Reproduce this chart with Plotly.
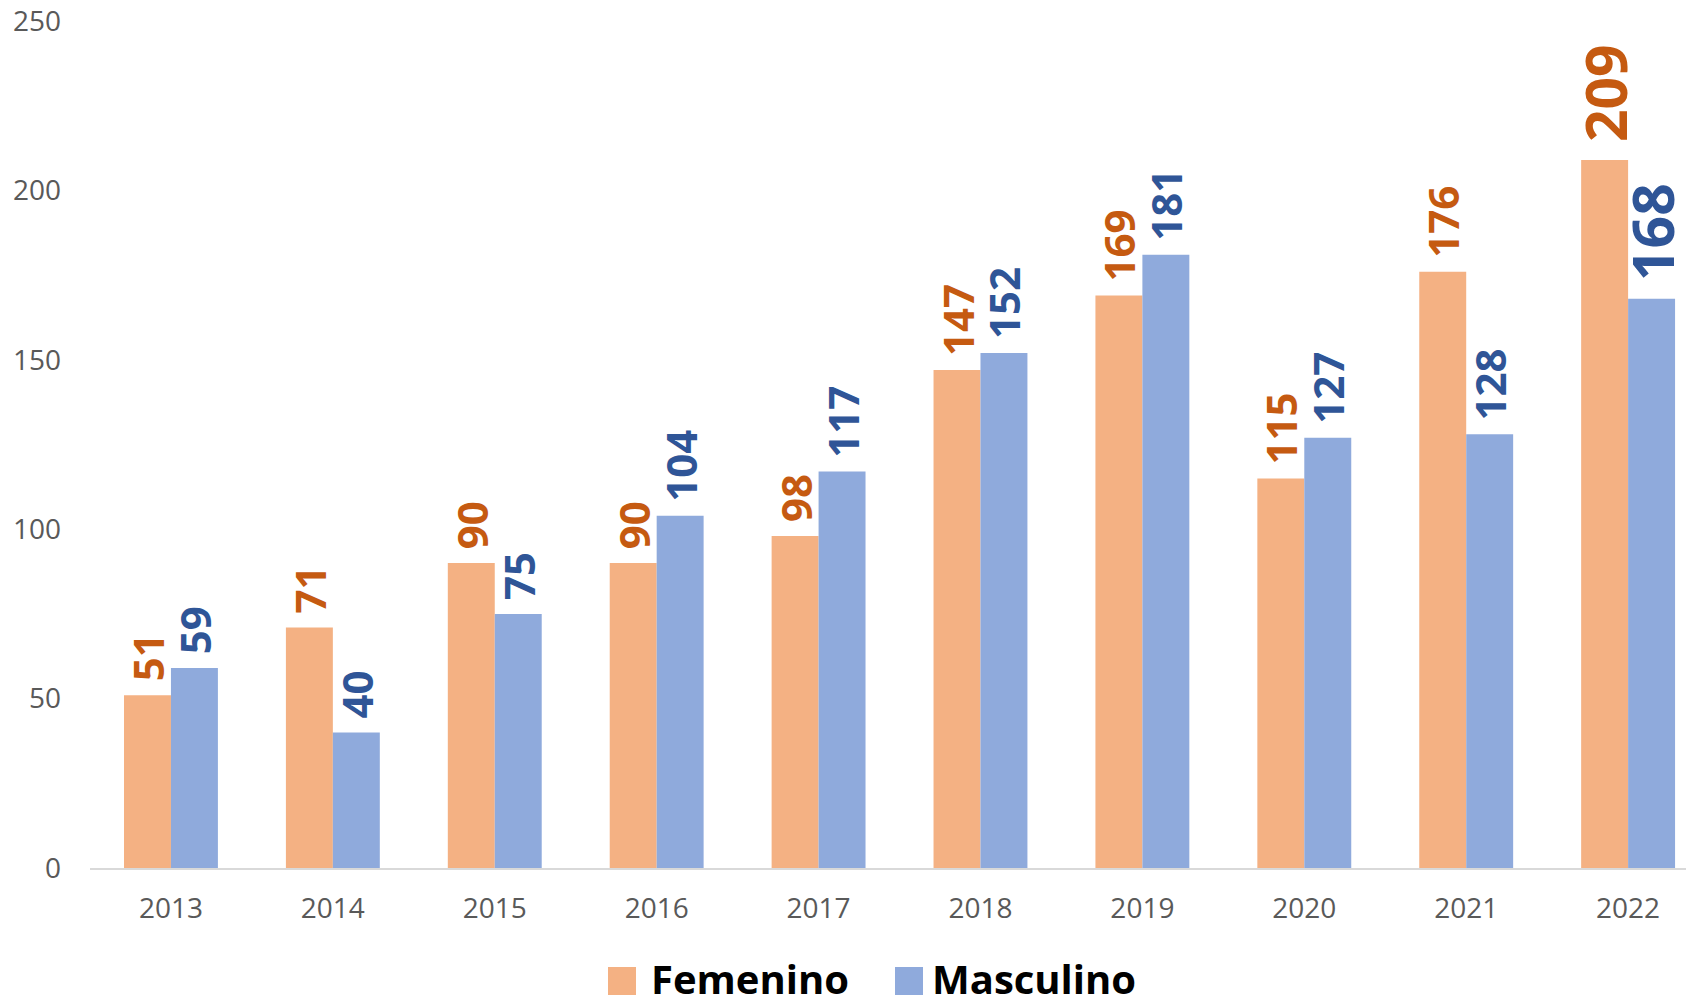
import plotly.graph_objects as go

years = ["2013", "2014", "2015", "2016", "2017", "2018", "2019", "2020", "2021", "2022"]
femenino = [51, 71, 90, 90, 98, 147, 169, 115, 176, 209]
masculino = [59, 40, 75, 104, 117, 152, 181, 127, 128, 168]
y_ticks = [0, 50, 100, 150, 200, 250]

series_names = ["Femenino", "Masculino"]
bar_colors = ["#F4B183", "#8FAADC"]
label_colors = ["#C55A11", "#2F5597"]
label_sizes = [42] * 9 + [57]

# page body has an 8px default margin; figure sized/positioned to compensate
OFF = 8
W, H = 1694 - OFF, 1001 - OFF
L, R, T = 90 - OFF, 0, 21 - OFF
B = H - (868 - OFF)
pw, ph = W - L - R, H - T - B

fig = go.Figure()
for name, vals, bc, lc in zip(series_names, [femenino, masculino], bar_colors, label_colors):
    fig.add_trace(go.Bar(
        name=name, x=years, y=vals,
        marker=dict(color=bc, line=dict(width=0)),
        text=vals, texttemplate=" %{text}", textposition="outside", textangle=-90,
        textfont=dict(family="Open Sans", size=label_sizes, color=lc, weight="bold"),
        constraintext="none", cliponaxis=False, showlegend=False,
    ))

# legend drawn as swatches + labels (screen pixel positions converted to paper coords)
def px_x(px):
    return (px - OFF - L) / pw

def px_y(py):
    return (H - B - (py - OFF)) / ph

legend_items = [(608, 652), (895, 933)]
for (sx, tx), name, bc in zip(legend_items, series_names, bar_colors):
    fig.add_shape(type="rect", xref="paper", yref="paper",
                  x0=px_x(sx), x1=px_x(sx + 28), y0=px_y(995), y1=px_y(967),
                  fillcolor=bc, line=dict(width=0), layer="above")
    fig.add_annotation(xref="paper", yref="paper", x=px_x(tx - 2), y=px_y(979),
                       xanchor="left", yanchor="middle", showarrow=False,
                       text=name, borderpad=0,
                       font=dict(family="Open Sans", size=40, color="black", weight="bold"))

fig.update_layout(
    width=W, height=H,
    margin=dict(l=L, r=R, t=T, b=B, autoexpand=False),
    paper_bgcolor="white", plot_bgcolor="white",
    barmode="group", bargap=0.42, bargroupgap=0,
    font=dict(family="Open Sans", color="#595959"),
    showlegend=False,
)
fig.update_xaxes(
    type="category", range=[-0.5, 9.407], automargin=False,
    showline=True, linecolor="#D9D9D9", linewidth=2,
    showgrid=False, ticks="", tickfont=dict(size=28, color="#595959"),
    ticklabelstandoff=14,
)
fig.update_yaxes(
    range=[0, 250], tickvals=y_ticks, showgrid=False, zeroline=False, automargin=False,
    showline=False, ticks="", tickfont=dict(size=28, color="#595959"),
    ticklabelstandoff=28, ticklabeloverflow="allow",
)

fig.write_html("out.html")
